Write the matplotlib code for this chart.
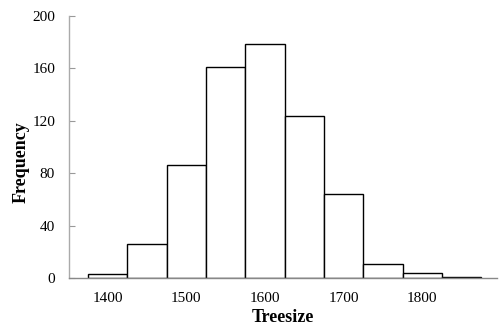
import matplotlib
matplotlib.use("Agg")
import matplotlib.pyplot as plt

bin_edges = [1375, 1425, 1475, 1525, 1575, 1625, 1675, 1725, 1775, 1825, 1875]
counts = [3, 26, 86, 161, 179, 124, 64, 11, 4, 1]
x_ticks = [1400, 1500, 1600, 1700, 1800]
y_ticks = [0, 40, 80, 120, 160, 200]

plt.rcParams['font.family'] = ['Liberation Serif', 'DejaVu Serif']

fig = plt.figure(figsize=(4.99, 3.31), dpi=100)
ax = fig.add_axes([69/499, 1-278/331, (497-69)/499, (278-16)/331])

lefts = bin_edges[:-1]
widths = [b - a for a, b in zip(bin_edges[:-1], bin_edges[1:])]
ax.bar(lefts, counts, width=widths, align='edge', facecolor='white',
       edgecolor='black', linewidth=1.0)

ax.set_xlim(1351, 1895)
ax.set_ylim(0, 200)
ax.set_xticks(x_ticks)
ax.set_yticks(y_ticks)
ax.tick_params(axis='x', length=0, pad=10, labelsize=11)
ax.tick_params(axis='y', direction='in', length=4, width=0.8, color='#999999',
               pad=10, labelsize=11)

for s in ['top', 'right']:
    ax.spines[s].set_visible(False)
ax.spines['left'].set_color('#aaaaaa')
ax.spines['left'].set_linewidth(1.0)
ax.spines['bottom'].set_color('#888888')
ax.spines['bottom'].set_linewidth(1.0)

ax.set_xlabel('Treesize', fontsize=13, fontweight='bold')
ax.xaxis.set_label_coords((283-69)/428, -(318-278)/262)
ax.set_ylabel('Frequency', fontsize=13, fontweight='bold')
ax.yaxis.set_label_coords(-(69-21.5)/428, (278-162)/262)
ax.xaxis.label.set_va('center')
ax.yaxis.label.set_va('center')

fig.savefig('out.png', dpi=100)
